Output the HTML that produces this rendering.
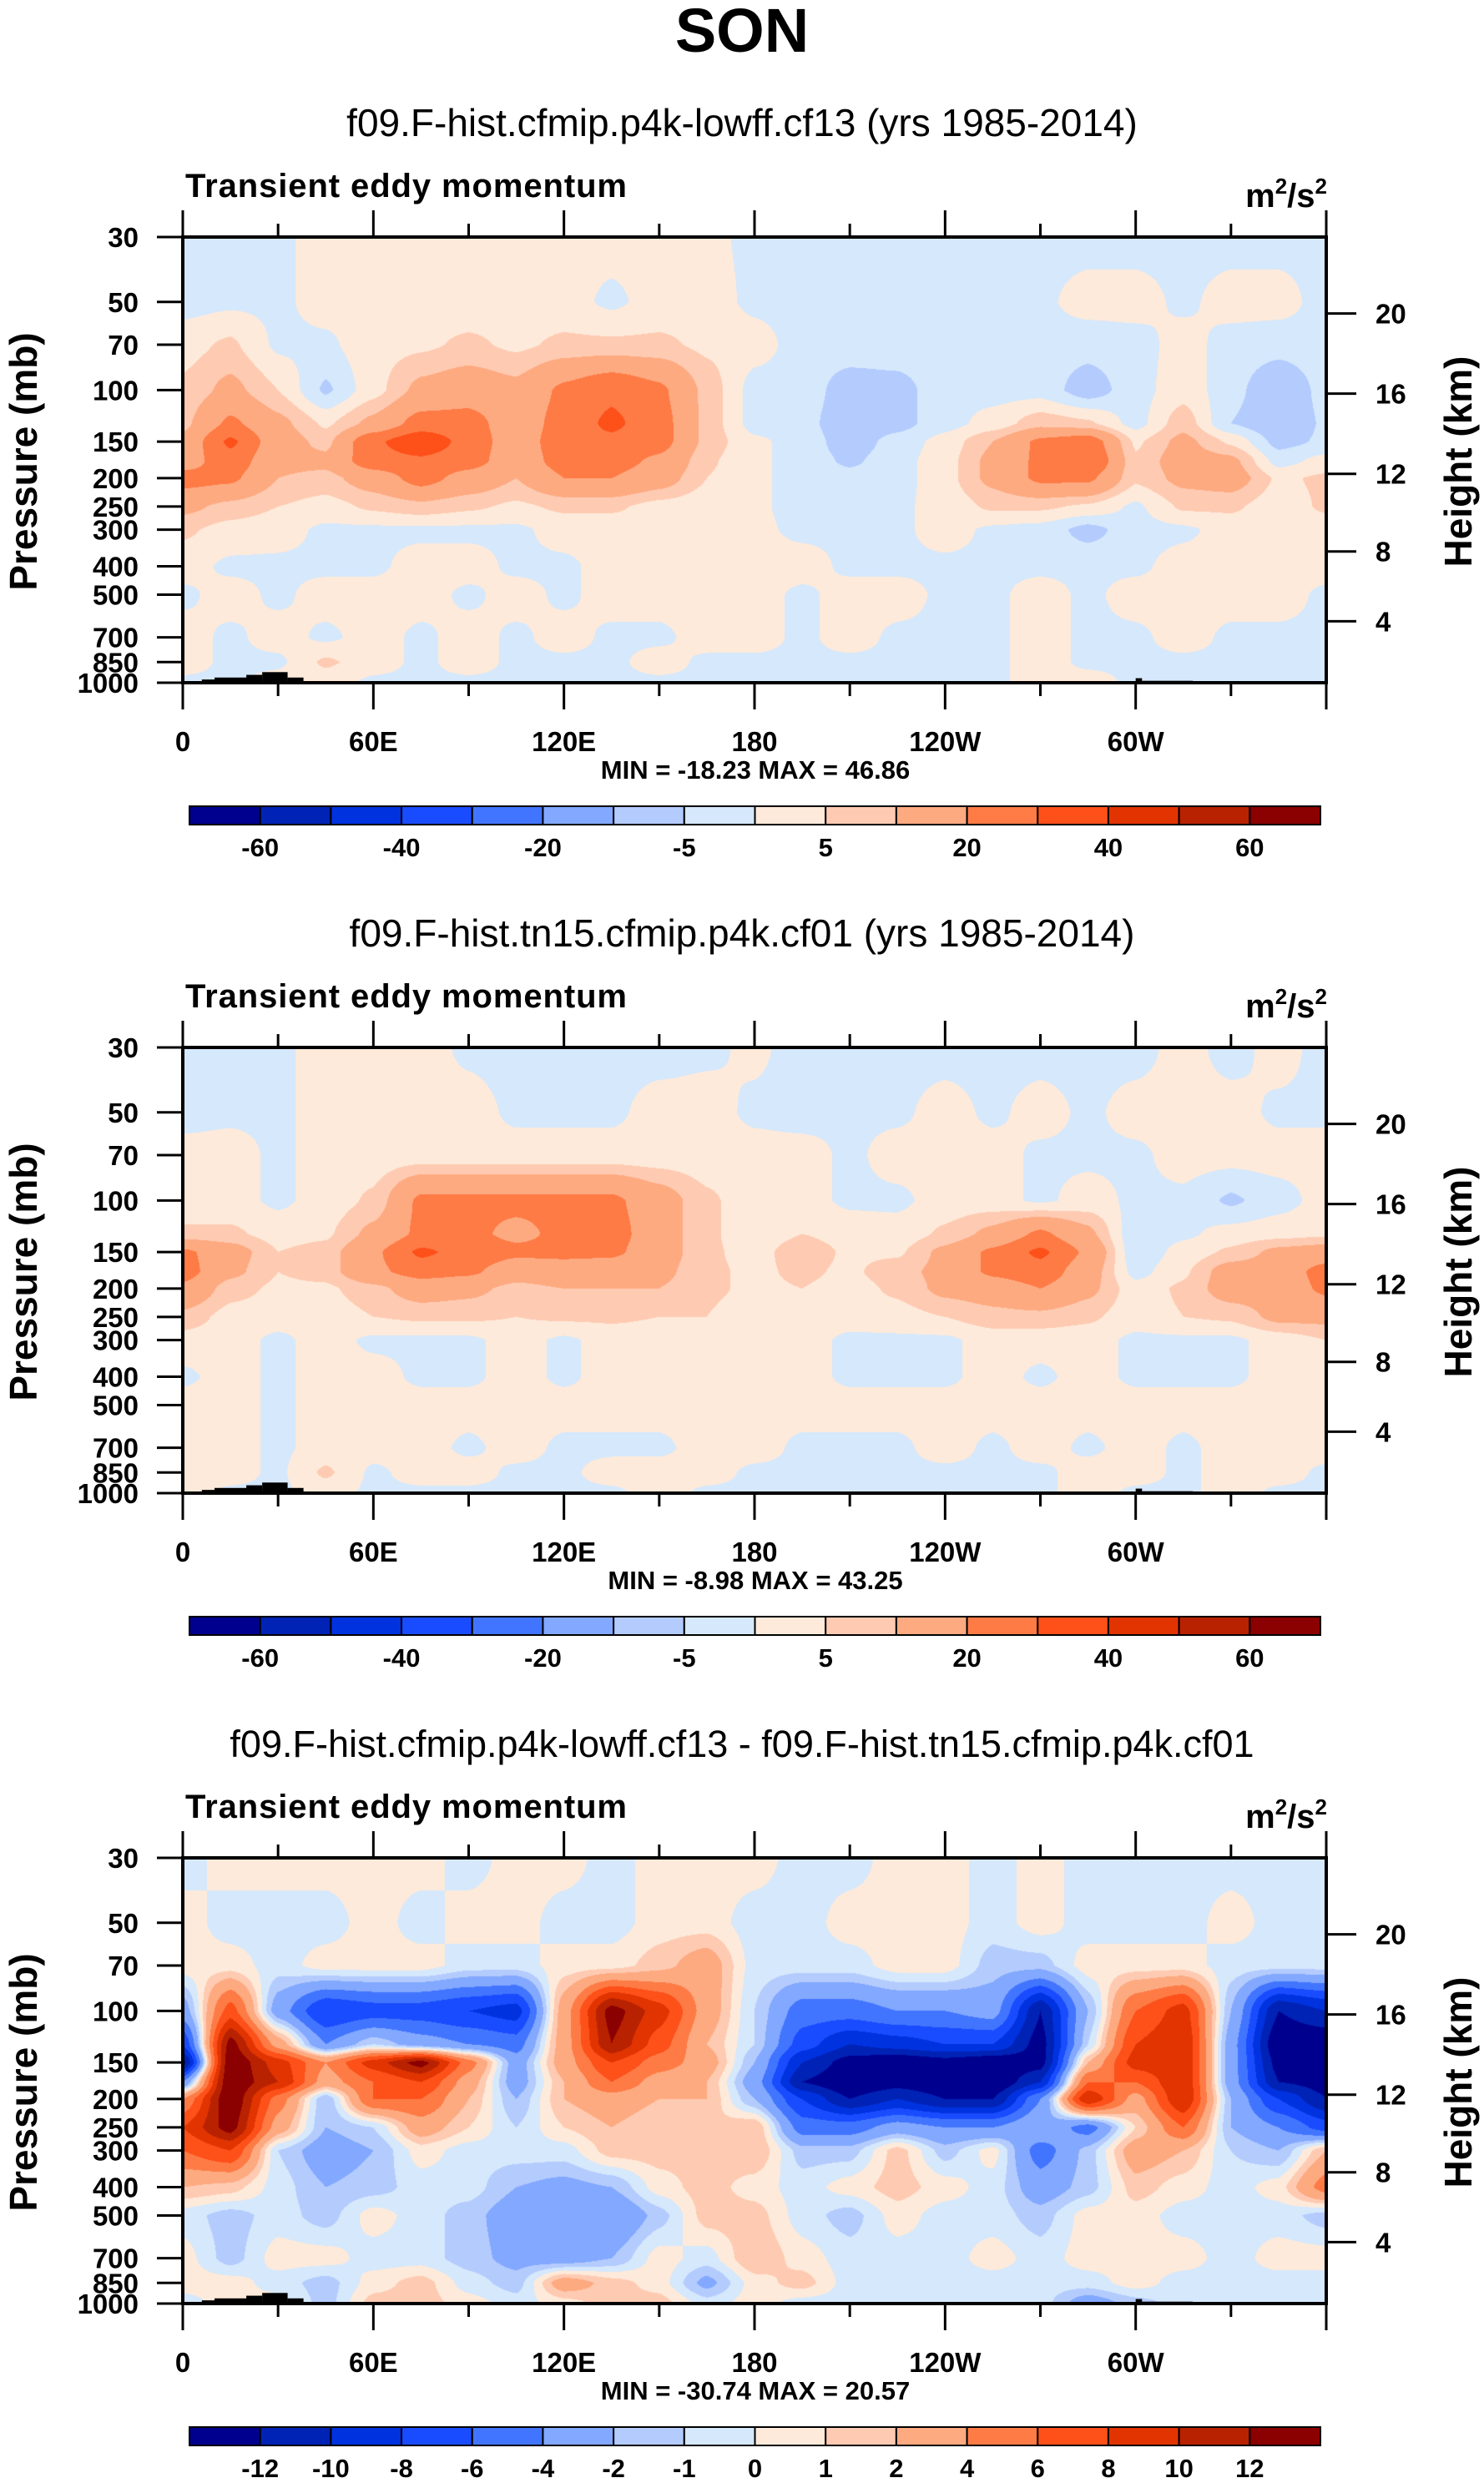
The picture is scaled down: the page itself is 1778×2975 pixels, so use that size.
<!DOCTYPE html>
<html><head><meta charset="utf-8">
<style>
html,body{margin:0;padding:0;background:#fff;}
#wrap{position:relative;width:1778px;height:2975px;overflow:hidden;font-family:"Liberation Sans",sans-serif;}
canvas{position:absolute;}
svg{position:absolute;left:0;top:0;}
</style></head>
<body>
<div id="wrap">
<canvas id="c0" width="1370" height="534" style="left:219px;top:284px"></canvas>
<canvas id="c1" width="1370" height="534" style="left:219px;top:1255px"></canvas>
<canvas id="c2" width="1370" height="534" style="left:219px;top:2226px"></canvas>
<svg id="svg" width="1778" height="2975" xmlns="http://www.w3.org/2000/svg"></svg>
</div>
<script>
// ---------- data ----------
const lons = [0,15,30,45,60,75,90,105,120,135,150,165,180,195,210,225,240,255,270,285,300,315,330,345,360];
const levels = [30,50,70,100,130,150,175,200,250,300,400,500,700,850,1000];
const titles = ["f09.F-hist.cfmip.p4k-lowff.cf13 (yrs 1985-2014)","f09.F-hist.tn15.cfmip.p4k.cf01 (yrs 1985-2014)","f09.F-hist.cfmip.p4k-lowff.cf13 - f09.F-hist.tn15.cfmip.p4k.cf01"];
const minMaxText = ["MIN = -18.23  MAX =  46.86","MIN = -8.98  MAX =  43.25","MIN = -30.74  MAX =  20.57"];
const contourLevelsAbs = [-60,-50,-40,-30,-20,-10,-5,0,5,10,20,30,40,50,60];
const contourLevelsDiff = [-12,-10,-8,-6,-4,-2,-1,0,1,2,4,6,8,10,12];
const cbLabelsAbs = ["","-60","","-40","","-20","","-5","","5","","20","","40","","60",""];
const cbLabelsDiff = ["","-12","-10","-8","-6","-4","-2","-1","0","1","2","4","6","8","10","12",""];
const xTickLons = [0,60,120,180,240,300];
const xTickLabels = ["0","60E","120E","180","120W","60W"];
const pTicks = [30,50,70,100,150,200,250,300,400,500,700,850,1000];
const zTicks = [4,8,12,16,20];
const topoLon0 = [6,10,20,25,33,300,302];
const topoLon1 = [20,25,25,33,38,302,318];
const topoP = [975,960,940,920,960,965,985];

const panel1Values = [
[-2,-2,-1,2,2,2,2,2,2,2,2,1,-1,-2,-2,-2,-2,-2,-2,-2,-2,-2,-2,-2,-2],
[-2,-1,-1,2,2,2,2,2,2,-1,2,2,-1,-2,-2,-2,-2,-1,-1,2,2,-1,2,2,-2],
[3,6,-1,-1,3,4,6,4,6,6,6,4,2,-2,-2,-2,-2,-2,-2,-3,-2,2,-2,-3,-2],
[6,12,5,-6,3,12,15,12,22,28,22,8,-2,-2,-8,-7,-2,-2,-2,-8,-2,3,-3,-10,-3],
[8,22,12,4,12,24,24,14,24,32,24,8,-2,-3,-9,-7,-2,2,8,6,-2,8,-5,-10,-4],
[12,32,14,8,28,38,26,14,26,28,24,8,1,-2,-8,-3,2,10,22,26,4,12,4,-7,-4],
[15,26,12,12,26,28,24,14,24,24,18,6,1,-2,-6,-2,3,12,22,30,6,14,12,-2,2],
[24,22,10,8,14,24,16,10,20,20,14,5,1,-2,-3,-2,3,12,22,22,6,12,14,4,6],
[12,8,5,3,6,8,6,4,6,6,3,2,1,-2,-2,-1,2,6,6,4,-1,6,6,2,6],
[6,3,2,-1,-1,-1,-1,-1,2,2,2,2,1,-1,-1,-1,2,-1,-2,-7,-2,-1,2,2,2],
[2,-1,-1,-1,-1,2,2,-1,-1,2,2,2,2,2,-1,-1,-1,-1,-1,-1,-1,2,2,2,2],
[-1,2,-1,2,2,2,-1,2,-1,2,2,2,2,-1,2,2,-1,-1,2,-1,2,2,2,2,-1],
[2,-1,2,-1,2,-1,2,-1,2,-1,-1,2,2,-1,2,-1,-1,-1,2,-1,-1,2,-1,-1,-1],
[2,-1,-1,6,2,-1,2,-1,-1,-1,2,-1,-1,-1,-1,-1,-1,-1,2,-1,-1,-1,-1,-1,-1],
[-1,-1,2,2,-1,-1,-1,-1,-1,-1,-1,-1,-1,-1,-1,-1,-1,-1,2,2,-1,-1,-1,-1,-1]
];
const panel2Values = [
[-2,-2,-1,2,2,2,-1,-2,-2,-2,-2,-1,1,-2,-2,-2,-2,-2,-2,-2,-2,2,-2,2,-2],
[-2,-1,-1,2,2,2,2,-1,-1,-1,2,2,-1,-2,-1,-1,2,-1,2,-1,2,2,2,-1,-1],
[2,2,-1,2,2,2,2,2,2,2,2,2,2,2,-1,2,2,2,-1,-1,-1,2,2,2,2],
[2,2,-1,2,6,22,22,22,22,22,14,6,2,2,-1,-1,2,2,-1,2,-1,-1,-6,-2,2],
[6,6,3,4,12,22,22,18,22,24,14,6,2,5,3,2,6,12,22,12,-4,-1,2,3,4],
[22,14,5,7,18,32,26,22,22,22,14,6,3,8,4,4,12,22,32,18,-4,2,6,12,14],
[24,12,5,7,18,24,22,14,16,14,12,6,4,6,4,8,12,22,26,14,-2,4,14,14,24],
[18,7,4,4,8,14,12,8,10,10,10,6,4,5,3,6,12,14,20,12,2,6,14,14,22],
[8,3,2,2,5,6,6,5,6,6,5,5,2,3,2,3,5,8,8,6,2,5,6,12,12],
[3,2,-1,2,-1,-1,-1,2,-1,2,2,2,2,2,-1,-1,-1,2,2,2,-1,-1,-1,2,5],
[-1,2,-1,2,2,-1,-1,2,-1,2,2,2,2,2,-1,-1,-1,2,-1,2,-1,-1,-1,2,2],
[2,2,-1,2,2,2,2,2,2,2,2,2,2,2,2,2,2,2,2,2,2,2,2,2,2],
[2,2,-1,2,2,2,-1,2,-1,-1,-1,2,2,-1,-1,-1,2,-1,2,-1,2,-1,2,2,2],
[2,2,-1,6,-1,2,2,-1,-1,2,2,2,-1,-1,-1,-1,-1,-1,-1,2,2,-1,2,2,-1],
[2,-1,-1,2,-1,-1,-1,-1,-1,-1,2,-1,-1,-1,-1,-1,-1,-1,-1,2,-1,-1,2,-1,-1]
];
const panel3Values = [
[-0.5,0.5,0.5,0.5,0.5,0.5,-0.5,0.5,0.5,-0.5,0.5,0.5,0.5,-0.5,-0.5,0.5,0.5,-0.5,0.5,-0.5,-0.5,-0.5,-0.5,-0.5,-0.5],
[0.5,-0.5,-0.5,-0.5,0.5,-0.5,0.5,0.5,-0.5,-0.5,0.5,0.5,-0.5,-0.5,0.5,0.5,0.5,-0.5,0.5,-0.5,-0.5,-0.5,0.5,-0.5,-0.5],
[0.5,0.5,-0.5,0.5,0.5,0.5,-0.5,-0.5,0.5,0.5,1.5,3,-0.5,-0.5,-0.5,0.5,0.5,-1.5,-1.5,0.5,0.5,0.5,-0.5,-0.5,-0.5],
[-3,7,-3,-8,-7,-7,-8,-9,3,13,9,3,-1,-5,-5,-4,-4,-3,-12,-2,6,9,-2,-12,-10],
[-8,13,3,-4,-1,-3,-4,-5,3,12,7,2,-1,-7,-10,-9,-8,-8,-13,-1,8,10,-3,-14,-14],
[-13,14,9,4,9,13,5,-3,3,8,5,3,-2,-10,-13,-14,-13,-14,-13,2,9,10,-3,-13,-14],
[-4,14,10,3,6,8,3,-3,2,6,3,2,-3,-12,-14,-13,-14,-14,-10,6,6,10,-3,-12,-13],
[4,14,5,-2,6,6,2,-2,2,3,2,2,-2,-8,-12,-10,-12,-12,-4,10,3,10,-2,-8,-12],
[8,13,3,-2,-1,3,1,-1,1,2,1,1,2,-5,-5,-3,-4,-4,-2,-5,1,6,-2,-4,-7],
[6,8,-1,-3,-2,0.5,-0.5,-0.5,-0.5,1.5,1.5,1.5,2,-1.5,-1.5,1.5,-1.5,0.5,-5,-1.5,3,2,-1,-2,2],
[2,1.5,-0.5,-2,-1.5,-0.5,-0.5,-2,-2.5,-2,0.5,1.5,0.5,-0.5,0.5,1.5,0.5,-0.5,-3,-1.5,1.5,0.5,-0.5,0.5,5],
[-0.5,-1.5,-0.5,-1.5,0.5,-0.5,-1.5,-3,-4,-4,-1.5,1.5,1.5,-0.5,-1.5,0.5,-0.5,-0.5,-1.5,0.5,0.5,-0.5,-0.5,-0.5,-1.5],
[0.5,-1.5,0.5,0.5,-0.5,-0.5,-1.5,-2.5,-3,-2,0.5,-0.5,2,0.5,-0.5,-0.5,-0.5,0.5,-0.5,0.5,0.5,0.5,-0.5,0.5,0.5],
[0.5,0.5,-0.5,-1.5,0.5,1.5,-0.5,-1.5,3,1.5,0.5,-2.5,0.5,1.5,-0.5,-0.5,-0.5,-0.5,-0.5,-0.5,0.5,-0.5,-0.5,-0.5,-0.5],
[-0.5,0.5,0.5,-1.5,1.5,1.5,0.5,-0.5,0.5,1.5,1.5,-0.5,0.5,-0.5,-0.5,-0.5,-0.5,-0.5,-0.5,-3,-1.5,-0.5,-0.5,-0.5,-0.5]
];
const palette = ["#00008f","#0022b5","#0032e0","#1a4cff","#4275ff","#82a8ff","#b4cbfe","#d5e8fc","#feeada","#fecbb2","#feaa81","#fe7b45","#fe5019","#e23401","#b92201","#8b0000"];

// ---------- layout ----------
const PL=219, PR=1589, PT=284, PB=818, PW=PR-PL, PH=PB-PT;
const offsets=[0,971,1942];
const NS="http://www.w3.org/2000/svg";
const svg=document.getElementById('svg');
function xOf(lon){return PL+lon/360*PW;}
function yOf(p,off){return off+PT+Math.log(p/30)/Math.log(1000/30)*PH;}
function pOfZ(zkm){const z=zkm*1000; if(z<=11000) return 1013.25*Math.pow(1-0.0065*z/288.15,5.2559); return 226.32*Math.exp(-(z-11000)/6341.6);}
function el(tag,attrs,parent){const e=document.createElementNS(NS,tag);for(const k in attrs)e.setAttribute(k,attrs[k]);(parent||svg).appendChild(e);return e;}
function txt(s,x,y,size,weight,anchor,parent){const t=el('text',{x:x,y:y,'font-size':size,'font-weight':weight,'text-anchor':anchor||'middle','font-family':'Liberation Sans, sans-serif',fill:'#000'},parent);t.textContent=s;return t;}

// ---------- field rendering ----------
function classify(v,lev){let i=0;while(i<lev.length&&v>=lev[i])i++;return i;}
function hexRgb(h){return [parseInt(h.slice(1,3),16),parseInt(h.slice(3,5),16),parseInt(h.slice(5,7),16)];}
const palRgb=palette.map(hexRgb);
const logLev=levels.map(p=>Math.log(p));
function drawField(ci,vals,lev){
  const cv=document.getElementById('c'+ci);const ctx=cv.getContext('2d');
  const img=ctx.createImageData(PW,PH);const d=img.data;
  for(let y=0;y<PH;y++){
    const lp=Math.log(30)+(y+0.5)/PH*Math.log(1000/30);
    let j=0;while(j<logLev.length-2&&lp>logLev[j+1])j++;
    let fy=(lp-logLev[j])/(logLev[j+1]-logLev[j]);fy=Math.max(0,Math.min(1,fy));
    fy=fy*fy*(3-2*fy)*0.5+fy*0.5;
    for(let x=0;x<PW;x++){
      const lon=(x+0.5)/PW*360;let i=Math.min(23,Math.floor(lon/15));let fx=(lon-lons[i])/15;
      fx=fx*fx*(3-2*fx)*0.5+fx*0.5;
      const v=(vals[j][i]*(1-fx)+vals[j][i+1]*fx)*(1-fy)+(vals[j+1][i]*(1-fx)+vals[j+1][i+1]*fx)*fy;
      const c=palRgb[classify(v,lev)];const k=(y*PW+x)*4;
      d[k]=c[0];d[k+1]=c[1];d[k+2]=c[2];d[k+3]=255;
    }
  }
  ctx.putImageData(img,0,0);
}
drawField(0,panel1Values,contourLevelsAbs);
drawField(1,panel2Values,contourLevelsAbs);
drawField(2,panel3Values,contourLevelsDiff);

// ---------- overlay ----------
const son=txt('SON',889,62,74,'bold');



for(let k=0;k<3;k++){
  const off=offsets[k];
  const g=el('g',{});
  
  
  const st=txt(titles[k],889,off+163,k==2?45:46,'normal','middle',g);
  
  
  const lt=txt('Transient eddy momentum',222,off+236,40,'bold','start',g);
  lt.setAttribute('textLength','529');
  
  
  const ut=el('text',{x:1590,y:off+248,'font-size':40,'font-weight':'bold','text-anchor':'end','font-family':'Liberation Sans, sans-serif'},g);
  ut.innerHTML='m<tspan dy="-16" font-size="26">2</tspan><tspan dy="16">/s</tspan><tspan dy="-16" font-size="26">2</tspan>';
  
  
  for(let t=0;t<topoLon0.length;t++){
    const r=el('rect',{x:xOf(topoLon0[t]),y:yOf(topoP[t],off),width:xOf(topoLon1[t])-xOf(topoLon0[t]),height:off+PB-yOf(topoP[t],off),fill:'#000'},g);
    
    
  }
  const fr=el('rect',{x:PL,y:off+PT,width:PW,height:PH,fill:'none',stroke:'#000','stroke-width':4},g);
  
  
  for(let lon=0;lon<=360;lon+=30){
    const major=lon%60===0;const x=xOf(lon);
    el('line',{x1:x,x2:x,y1:off+PT,y2:off+PT-(major?32:16),stroke:'#000','stroke-width':3},g);
    el('line',{x1:x,x2:x,y1:off+PB,y2:off+PB+(major?32:16),stroke:'#000','stroke-width':3},g);
  }
  for(let i=0;i<xTickLons.length;i++){
    const t=txt(xTickLabels[i],xOf(xTickLons[i]),off+900,33,'bold','middle',g);
    
    
  }
  for(const p of pTicks){
    const y=yOf(p,off);
    el('line',{x1:188,x2:PL,y1:y,y2:y,stroke:'#000','stroke-width':3},g);
    const t=txt(String(p),166,y+12,33,'bold','end',g);
    
    
  }
  for(const z of zTicks){
    const y=yOf(pOfZ(z),off);
    el('line',{x1:PR,x2:PR+36,y1:y,y2:y,stroke:'#000','stroke-width':3},g);
    const t=txt(String(z),1648,y+12,33,'bold','start',g);
    
    
  }
  const yt=txt('Pressure (mb)',0,0,46,'bold','middle',g);
  yt.setAttribute('transform','translate(44,'+(off+553)+') rotate(-90)');
  
  
  const ht=txt('Height (km)',0,0,46,'bold','middle',g);
  ht.setAttribute('transform','translate(1763,'+(off+553)+') rotate(-90)');
  
  
  const mm=txt(minMaxText[k],905,off+933,31,'bold','middle',g);
  
  
  const cb0=227,cb1=1582,cbT=off+966,cbB=off+988,bw=(cb1-cb0)/16;
  const labs=k==2?cbLabelsDiff:cbLabelsAbs;
  for(let b=0;b<16;b++){
    const r=el('rect',{x:cb0+b*bw,y:cbT,width:bw,height:cbB-cbT,fill:palette[b],stroke:'#000','stroke-width':2},g);
    
    
  }
  for(let b=1;b<16;b++){
    if(!labs[b])continue;
    const t=txt(labs[b],cb0+b*bw,off+1026,31,'bold','middle',g);
    
    
  }
}
</script>
</body></html>
